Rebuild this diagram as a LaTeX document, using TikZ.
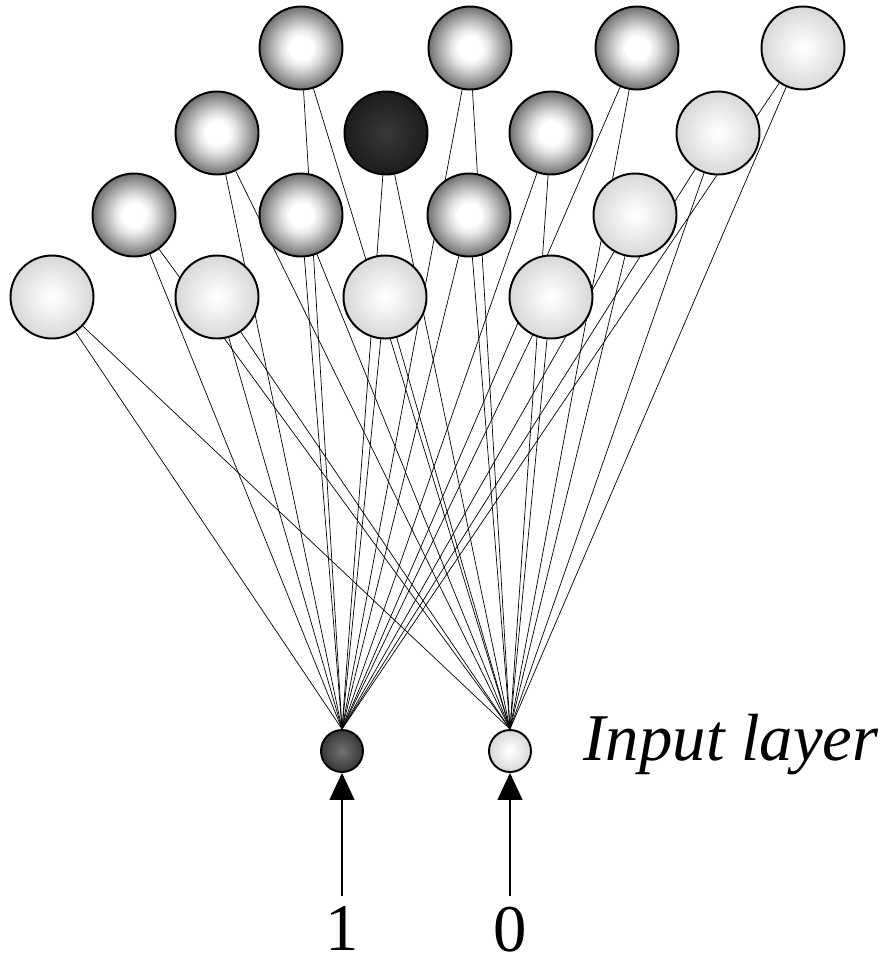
\documentclass[tikz,border=0pt]{standalone}
\usepackage{fontspec}
\setmainfont{Liberation Serif}
\usetikzlibrary{arrows.meta,backgrounds}

%Schattierungen der Kugeln
\pgfdeclareradialshading{darkball}{\pgfpoint{0bp}{0bp}}{color(0bp)=(white); color(7bp)=(white); color(12bp)=(black!12); color(19bp)=(black!35); color(26bp)=(black!60); color(32bp)=(black!80); color(35bp)=(black!88); color(50bp)=(black!88)}
\pgfdeclareradialshading{lightball}{\pgfpoint{0bp}{0bp}}{color(0bp)=(white); color(6bp)=(white!97!black); color(35bp)=(black!22); color(50bp)=(black!22)}
\pgfdeclareradialshading{blackball}{\pgfpoint{0bp}{0bp}}{color(0bp)=(black!78); color(35bp)=(black!93); color(50bp)=(black!93)}
\pgfdeclareradialshading{inputball}{\pgfpoint{0bp}{0bp}}{color(0bp)=(black!55); color(35bp)=(black!88); color(50bp)=(black!88)}

\tikzset{
	neuron/.style={circle, draw, line width=1.1pt, minimum size=1.66cm, inner sep=0},
	dk/.style={neuron, shading=darkball},
	lt/.style={neuron, shading=lightball},
	bk/.style={neuron, shading=blackball},
	input/.style={circle, draw, line width=1.1pt, minimum size=0.84cm, inner sep=0},
	bigtext/.style={font=\fontsize{38}{40}\selectfont}
}

\begin{document}
\begin{tikzpicture}
		[
		x=0.02cm, y=-0.02cm, line width=0.75pt,
		>={Triangle[length=0.54cm, width=0.5cm]}
		%Voreinstellung für Pfeilspitzen
		]
		
		\useasboundingbox (0,0) rectangle (891,964);
		
		%Reihe 1
		\node[dk] (n11) at (301,48) {};
		\node[dk] (n12) at (470,48) {};
		\node[dk] (n13) at (637,48) {};
		\node[lt] (n14) at (803,48) {};
		
		%Reihe 2
		\node[dk] (n21) at (217,133) {};
		\node[bk] (n22) at (386,133) {};
		\node[dk] (n23) at (551,133) {};
		\node[lt] (n24) at (718,133) {};
		
		%Reihe 3
		\node[dk] (n31) at (134,215) {};
		\node[dk] (n32) at (301,215) {};
		\node[dk] (n33) at (469,215) {};
		\node[lt] (n34) at (635,215) {};
		
		%Reihe 4
		\node[lt] (n41) at (52,297) {};
		\node[lt] (n42) at (217,297) {};
		\node[lt] (n43) at (385,297) {};
		\node[lt] (n44) at (551,297) {};
		
		%Eingaben
		\node[input, shading=inputball] (in1) at (342,751) {};
		\node[input, shading=lightball] (in0) at (510,751) {};
		\node[bigtext, anchor=base west, inner sep=0] (title) at (583,760) {\itshape Input layer};
		
		%Werte
		\node[bigtext, anchor=north, inner sep=0] (v1) at (342,906) {1};
		\node[bigtext, anchor=north, inner sep=0] (v0) at (510,906) {0};
		\draw[->, shorten <=0.2cm] (v1) -- (in1);
		\draw[->, shorten <=0.2cm] (v0) -- (in0);
		
		%Verbindungen
		\begin{scope}[on background layer]
		\foreach \r in {1,...,4}
			\foreach \c in {1,...,4}
				\draw (n\r\c) -- (in1.north) (n\r\c) -- (in0.north);
		\end{scope}
	\end{tikzpicture}
\end{document}
